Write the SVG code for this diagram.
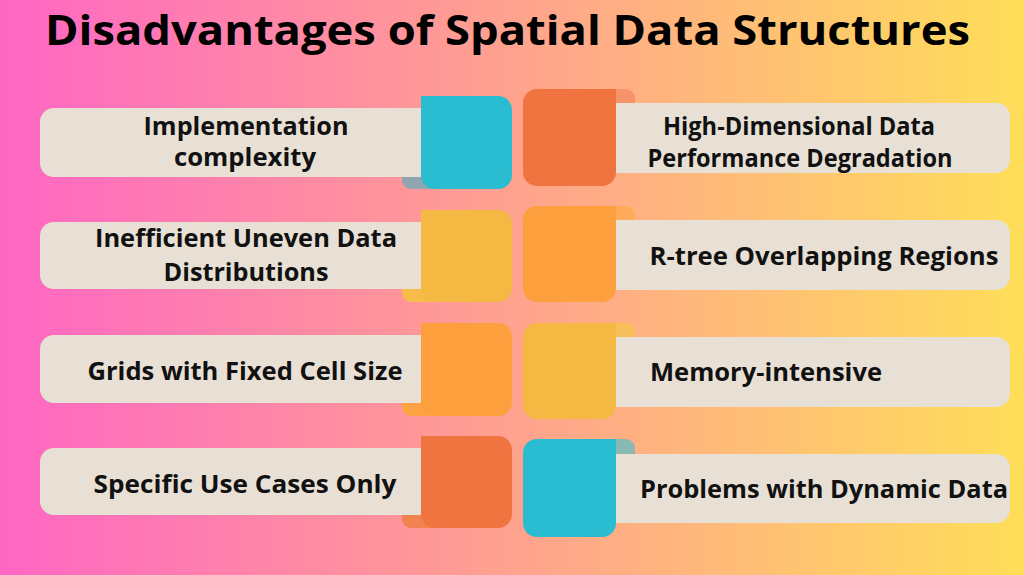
<svg xmlns="http://www.w3.org/2000/svg" width="1024" height="575" viewBox="0 0 1024 575">
<defs>
<linearGradient id="bg" x1="0" y1="0" x2="1" y2="0">
<stop offset="0" stop-color="#ff66c4"/>
<stop offset="1" stop-color="#ffde59"/>
</linearGradient>
</defs>
<style>
.bar{fill:#e8e0d5}
.t{font-family:"Open Sans","Liberation Sans",sans-serif;font-weight:700;font-size:24.5px;fill:#111;text-anchor:middle}
.title{font-family:"Open Sans","Liberation Sans",sans-serif;font-weight:700;font-size:41px;fill:#000}
.cyan{fill:#2abcd0}
.red{fill:#ef7440}
.yel{fill:#f4b843}
.org{fill:#fe9f3d}
</style>
<rect width="1024" height="575" fill="url(#bg)"/>
<text class="title" x="45" y="45" textLength="925" lengthAdjust="spacingAndGlyphs">Disadvantages of Spatial Data Structures</text>

<g id="node-implementation">
<rect x="402" y="160" width="40" height="29" rx="9" fill="#8fa6b1"/>
<rect class="bar" x="40" y="108" width="400" height="69" rx="14"/>
<rect class="cyan" x="421" y="96" width="91" height="93" rx="14"/>
<rect class="cyan" x="421" y="96" width="30" height="80"/>
<text class="t" x="246" y="135" textLength="205" lengthAdjust="spacingAndGlyphs">Implementation</text>
<text class="t" x="245" y="166" textLength="142" lengthAdjust="spacingAndGlyphs">complexity</text>
</g>

<g id="node-uneven">
<rect x="402" y="273" width="40" height="29" rx="9" fill="#f6bd4a"/>
<rect class="bar" x="40" y="222" width="400" height="67" rx="14"/>
<rect class="yel" x="421" y="210" width="91" height="92" rx="14"/>
<rect class="yel" x="421" y="210" width="30" height="79"/>
<text class="t" x="246" y="247" textLength="302" lengthAdjust="spacingAndGlyphs">Inefficient Uneven Data</text>
<text class="t" x="246" y="281" textLength="165" lengthAdjust="spacingAndGlyphs">Distributions</text>
</g>

<g id="node-grids">
<rect x="402" y="387" width="40" height="29" rx="9" fill="#fea344"/>
<rect class="bar" x="40" y="335" width="400" height="68" rx="14"/>
<rect class="org" x="421" y="323" width="91" height="93" rx="14"/>
<rect class="org" x="421" y="323" width="30" height="80"/>
<text class="t" x="245" y="380" textLength="315" lengthAdjust="spacingAndGlyphs">Grids with Fixed Cell Size</text>
</g>

<g id="node-specific">
<rect x="402" y="499" width="40" height="29" rx="9" fill="#f28250"/>
<rect class="bar" x="40" y="448" width="400" height="67" rx="14"/>
<rect class="red" x="421" y="436" width="91" height="92" rx="14"/>
<rect class="red" x="421" y="436" width="30" height="79"/>
<text class="t" x="245" y="493" textLength="303" lengthAdjust="spacingAndGlyphs">Specific Use Cases Only</text>
</g>

<g id="node-highdim">
<rect x="595" y="89" width="40" height="30" rx="9" fill="#f5946a"/>
<rect class="red" x="523" y="89" width="93" height="97" rx="14"/>
<rect class="red" x="586" y="89" width="30" height="40"/>
<rect class="bar" x="598" y="103" width="412" height="70" rx="14"/>
<rect class="red" x="586" y="103" width="30" height="70"/>
<text class="t" x="799" y="135" textLength="272" lengthAdjust="spacingAndGlyphs">High-Dimensional Data</text>
<text class="t" x="800" y="167" textLength="305" lengthAdjust="spacingAndGlyphs">Performance Degradation</text>
</g>

<g id="node-rtree">
<rect x="595" y="206" width="40" height="30" rx="9" fill="#feac5c"/>
<rect class="org" x="523" y="206" width="93" height="96" rx="14"/>
<rect class="org" x="586" y="206" width="30" height="40"/>
<rect class="bar" x="598" y="220" width="412" height="70" rx="14"/>
<rect class="org" x="586" y="220" width="30" height="70"/>
<text class="t" x="824" y="265" textLength="349" lengthAdjust="spacingAndGlyphs">R-tree Overlapping Regions</text>
</g>

<g id="node-memory">
<rect x="595" y="323" width="40" height="30" rx="9" fill="#f7be5a"/>
<rect class="yel" x="523" y="323" width="93" height="96" rx="14"/>
<rect class="yel" x="586" y="323" width="30" height="40"/>
<rect class="bar" x="598" y="337" width="412" height="70" rx="14"/>
<rect class="yel" x="586" y="337" width="30" height="70"/>
<text class="t" x="766" y="381" textLength="232" lengthAdjust="spacingAndGlyphs">Memory-intensive</text>
</g>

<g id="node-dynamic">
<rect x="595" y="439" width="40" height="30" rx="9" fill="#8ab8b2"/>
<rect class="cyan" x="523" y="439" width="93" height="98" rx="14"/>
<rect class="cyan" x="586" y="439" width="30" height="40"/>
<rect class="bar" x="598" y="454" width="412" height="69" rx="14"/>
<rect class="cyan" x="586" y="454" width="30" height="69"/>
<text class="t" x="824" y="498" textLength="368" lengthAdjust="spacingAndGlyphs">Problems with Dynamic Data</text>
</g>
</svg>
